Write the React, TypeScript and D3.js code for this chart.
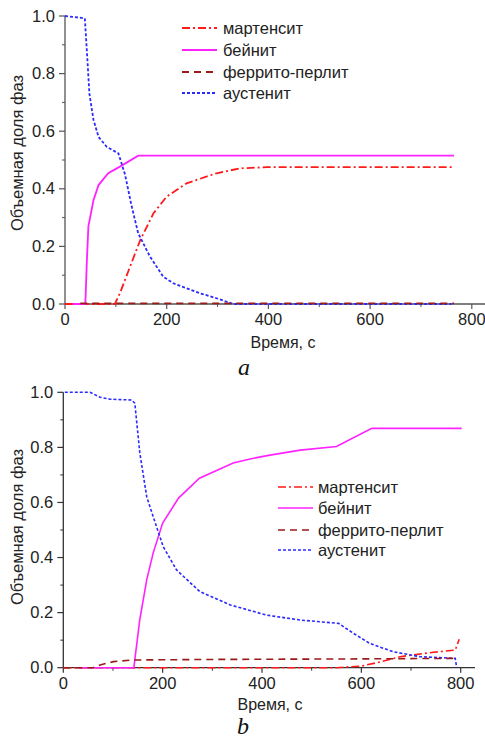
import React from "react";
import * as d3 from "d3";

// ---------- data: panel a ----------
const aMartensiteT = [0, 98, 108, 128, 148, 174, 200, 239, 298, 344, 397, 765];
const aMartensiteV = [0, 0, 0.037, 0.13, 0.222, 0.315, 0.373, 0.419, 0.454, 0.471, 0.475, 0.475];
const aBainiteT = [15, 40, 43, 46, 56, 66, 85, 108, 144, 765];
const aBainiteV = [0, 0, 0.15, 0.27, 0.36, 0.413, 0.454, 0.477, 0.515, 0.515];
const aFerriteT = [30, 765];
const aFerriteV = [0.002, 0.002];
const aAusteniteT = [0, 39, 44, 48, 56, 66, 82, 105, 118, 131, 144, 167, 193, 213, 266, 298, 331, 760];
const aAusteniteV = [1.0, 0.992, 0.85, 0.73, 0.64, 0.58, 0.546, 0.523, 0.45, 0.34, 0.245, 0.165, 0.095, 0.072, 0.037, 0.02, 0, 0];

// ---------- data: panel b ----------
const bMartensiteT = [0, 550, 600, 631, 678, 745, 789, 797];
const bMartensiteV = [0, 0, 0.006, 0.018, 0.04, 0.056, 0.064, 0.103];
const bBainiteT = [30, 142, 154, 168, 181, 200, 232, 274, 342, 376, 416, 477, 550, 621, 802];
const bBainiteV = [0, 0, 0.175, 0.32, 0.417, 0.525, 0.616, 0.688, 0.743, 0.758, 0.772, 0.79, 0.803, 0.869, 0.869];
const bFerriteT = [0, 60, 74, 101, 141, 300, 600, 795];
const bFerriteV = [0, 0, 0.01, 0.022, 0.028, 0.03, 0.032, 0.034];
const bAusteniteT = [3, 54, 74, 94, 138, 144, 154, 168, 181, 201, 228, 275, 336, 409, 477, 554, 584, 617, 664, 718, 789, 792];
const bAusteniteV = [1.0, 1.0, 0.982, 0.975, 0.972, 0.96, 0.78, 0.62, 0.548, 0.44, 0.355, 0.276, 0.228, 0.191, 0.173, 0.161, 0.125, 0.088, 0.058, 0.04, 0.034, 0.0];

// ---------- labels ----------
const seriesNames = ["мартенсит", "бейнит", "феррито-перлит", "аустенит"];
const xTicks = [0, 200, 400, 600, 800];
const yTicks = [0, 0.2, 0.4, 0.6, 0.8, 1.0];
const xMinor = [100, 300, 500, 700];
const yMinor = [0.1, 0.3, 0.5, 0.7, 0.9];
const xTitle = "Время, с";
const yTitle = "Объемная доля фаз";
const panelLetters = ["a", "b"];

const styles = [
  { color: "#ff1a1a", dash: "8,3,2,3" },
  { color: "#ff22ff", dash: "" },
  { color: "#9a1a1a", dash: "7,5" },
  { color: "#2a2aff", dash: "3,2" },
];

type Series = { t: number[]; v: number[] };

function Panel(props: {
  series: Series[];
  x0: number; x1: number; y0: number; y1: number; axisEnd: number;
  legendX: number; legendY: number[]; textX: number;
  xTitleX: number; xTitleY: number; yTitleY: number;
  letter: string; letterX: number; letterY: number;
  axisColor: string; lw: number;
}) {
  const p = props;
  const x = d3.scaleLinear().domain([0, 800]).range([p.x0, p.x1]);
  const y = d3.scaleLinear().domain([0, 1]).range([p.y0, p.y1]);
  const line = d3.line<[number, number]>().x((d) => x(d[0])).y((d) => y(d[1]));
  const font = "'Liberation Sans', Arial, sans-serif";
  const tc = "#222";
  const drawOrder = [0, 1, 3, 2];
  return (
    <g>
      {/* axes */}
      <line x1={p.x0} x2={p.axisEnd} y1={p.y0} y2={p.y0} stroke={p.axisColor} strokeWidth={1.3} />
      <line x1={p.x0} x2={p.x0} y1={p.y0} y2={p.y1} stroke={p.axisColor} strokeWidth={1.3} />
      {xTicks.map((t) => (
        <g key={"xt" + t}>
          <line x1={x(t)} x2={x(t)} y1={p.y0} y2={p.y0 + 5} stroke={p.axisColor} strokeWidth={1.2} />
          <text x={x(t)} y={p.y0 + 21} textAnchor="middle" fontFamily={font} fontSize={16.5} fill={tc}>{t}</text>
        </g>
      ))}
      {xMinor.map((t) => (
        <line key={"xm" + t} x1={x(t)} x2={x(t)} y1={p.y0} y2={p.y0 + 3} stroke={p.axisColor} strokeWidth={1} />
      ))}
      {yTicks.map((v) => (
        <g key={"yt" + v}>
          <line x1={p.x0 - 6} x2={p.x0} y1={y(v)} y2={y(v)} stroke={p.axisColor} strokeWidth={1.2} />
          <text x={p.x0 - 10} y={y(v) + 5.5} textAnchor="end" fontFamily={font} fontSize={16.5} fill={tc}>{v.toFixed(1)}</text>
        </g>
      ))}
      {yMinor.map((v) => (
        <line key={"ym" + v} x1={p.x0 - 3} x2={p.x0} y1={y(v)} y2={y(v)} stroke={p.axisColor} strokeWidth={1} />
      ))}
      <text x={p.xTitleX} y={p.xTitleY} textAnchor="middle" fontFamily={font} fontSize={16} fill={tc}>{xTitle}</text>
      <text transform={`translate(23,${p.yTitleY}) rotate(-90)`} textAnchor="middle" fontFamily={font} fontSize={16.5} fill={tc}>{yTitle}</text>
      {/* series */}
      {drawOrder.map((i) => {
        const s = p.series[i];
        const pts = s.t.map((t, k) => [t, s.v[k]] as [number, number]);
        return (
          <path key={"s" + i} d={line(pts) || ""} fill="none" stroke={styles[i].color}
            strokeWidth={p.lw} strokeDasharray={styles[i].dash || undefined} />
        );
      })}
      {/* legend */}
      {seriesNames.map((n, i) => (
        <g key={"lg" + i}>
          <line x1={p.legendX} x2={p.legendX + 35} y1={p.legendY[i]} y2={p.legendY[i]} stroke={styles[i].color}
            strokeWidth={p.lw} strokeDasharray={styles[i].dash || undefined} />
          <text x={p.textX} y={p.legendY[i] + 5.5} fontFamily={font} fontSize={16.5} fill={tc}>{n}</text>
        </g>
      ))}
      <text x={p.letterX} y={p.letterY} textAnchor="middle" fontFamily="'Liberation Serif', 'Times New Roman', serif"
        fontStyle="italic" fontSize={24} fill="#111">{p.letter}</text>
    </g>
  );
}

export default function App() {
  const seriesA: Series[] = [
    { t: aMartensiteT, v: aMartensiteV },
    { t: aBainiteT, v: aBainiteV },
    { t: aFerriteT, v: aFerriteV },
    { t: aAusteniteT, v: aAusteniteV },
  ];
  const seriesB: Series[] = [
    { t: bMartensiteT, v: bMartensiteV },
    { t: bBainiteT, v: bBainiteV },
    { t: bFerriteT, v: bFerriteV },
    { t: bAusteniteT, v: bAusteniteV },
  ];
  return (
    <svg width={485} height={740} style={{ position: "absolute", left: 0, top: 0, background: "#fff" }}>
      <rect width={485} height={740} fill="#fff" />
      <Panel series={seriesA} x0={65} x1={471.8} y0={304} y1={16} axisEnd={485}
        legendX={182} legendY={[28, 50, 72, 93]} textX={223}
        xTitleX={283} xTitleY={348} yTitleY={153}
        letter={panelLetters[0]} letterX={244} letterY={375} axisColor="#555" lw={1.8} />
      <Panel series={seriesB} x0={63.3} x1={460.7} y0={667.7} y1={392.3} axisEnd={475}
        legendX={278} legendY={[487, 508, 530, 550]} textX={318}
        xTitleX={270} xTitleY={710} yTitleY={527}
        letter={panelLetters[1]} letterX={243} letterY={734} axisColor="#333" lw={1.6} />
    </svg>
  );
}
